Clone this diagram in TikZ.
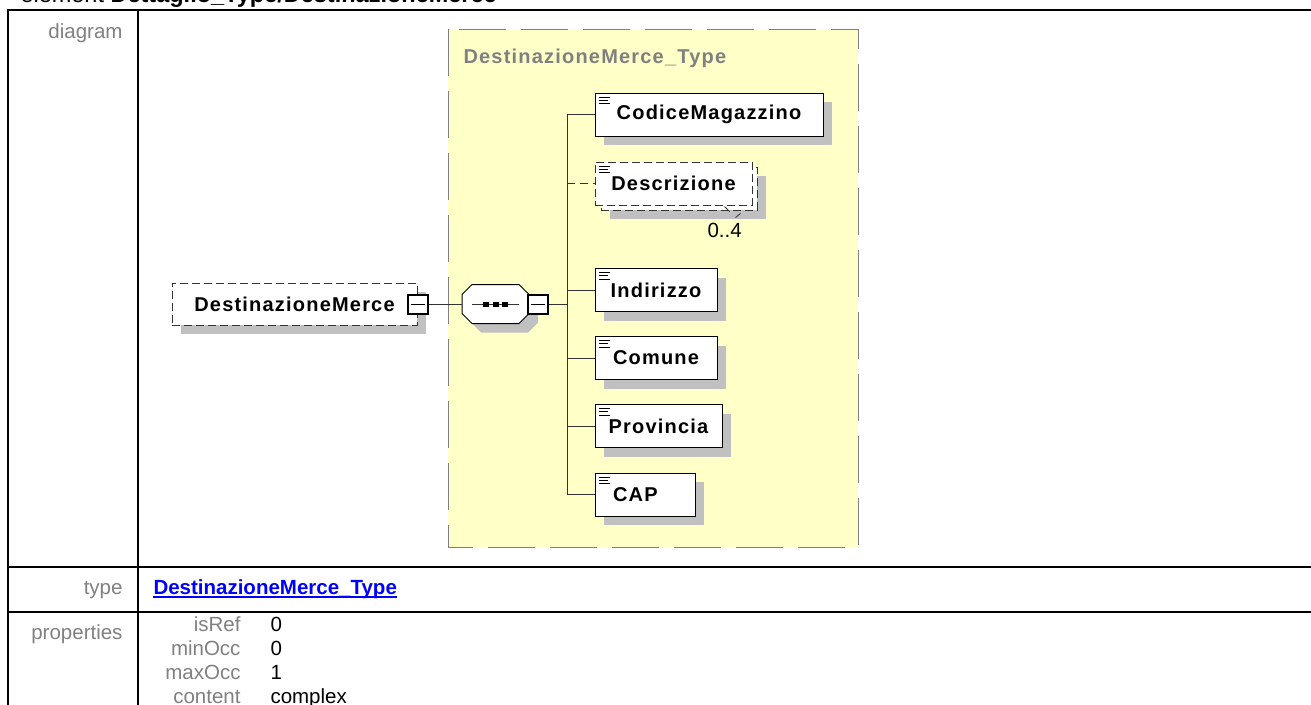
\documentclass[tikz,border=0pt]{standalone}
\usepackage{fontspec}
\setmainfont{Liberation Sans}
\newfontfamily\diagfont[LetterSpace=6]{Liberation Sans}
\usetikzlibrary{shadows}

\definecolor{typeyellow}{RGB}{255,255,200}
\definecolor{shadowgray}{RGB}{192,192,192}
\definecolor{labelgray}{RGB}{128,128,128}
\definecolor{linkblue}{RGB}{0,0,255}

\newcommand\elemfont{\diagfont\fontsize{20}{24}\selectfont\bfseries}
\newcommand\tabfont{\fontsize{20.5}{24}\selectfont}
\newcommand\headfont{\fontsize{23.5}{28}\selectfont}
% === 序列八边形（相对中心） ===
\newcommand\octpath{(-33.5,-9.5) -- (-23.5,-19.5) -- (23.5,-19.5) -- (33.5,-9.5)
    -- (33.5,9.5) -- (23.5,19.5) -- (-23.5,19.5) -- (-33.5,9.5) -- cycle}

\tikzset{
  box/.style={draw=black, fill=white, minimum height=43pt, inner sep=0pt, font=\elemfont},
  shade/.style={general shadow={fill=shadowgray, shadow xshift=9pt, shadow yshift=-9pt}},
  elem/.style={box, shade},
  opt/.style={draw=black!80, dash pattern=on 8pt off 4pt},
  minusbox/.style={draw=black, fill=white, line width=2pt, minimum width=20pt, minimum height=19pt,
    inner sep=0pt, path picture={\draw[line width=1pt] ([xshift=3pt]path picture bounding box.west)
      -- ([xshift=-3pt]path picture bounding box.east);}},
  conn/.style={draw=black!80, line width=1pt},
  icon/.style={draw=black, line width=0.8pt},
  rule/.style={draw=black, line width=2.5pt},
  txt/.style={inner sep=0pt, anchor=base west, font=\tabfont},
  lbl/.style={txt, anchor=base east, text=labelgray},
}

\begin{document}
\begin{tikzpicture}[x=1pt, y=-1pt, line width=1pt]

    \clip (0,0) rectangle (1311,704);

    % === 标题 ===
    \node[txt, font=\headfont] (head) at (20,2) {element \textbf{Dettaglio\_Type/DestinazioneMerce}};

    % === 表格线 ===
    \draw[rule] (1320,10) -| (8,720);
    \draw[rule] (138,10) -- (138,720);
    \draw[rule] (8,567) -- (1320,567);
    \draw[rule] (8,612) -- (1320,612);

    % === 左列标签 ===
    \node[lbl] (lblDiagram) at (123,38) {diagram};
    \node[lbl] (lblType) at (123,594) {type};
    \node[lbl] (lblProps) at (123,639) {properties};

    % === 类型框 ===
    \draw[draw=labelgray, fill=typeyellow, dash pattern=on 47pt off 15pt] (448,29) rectangle (858,547);
    \node[txt, font=\elemfont, text=labelgray] (typeTitle) at (463,63) {DestinazioneMerce\_Type};

    % === 元素 ===
    \node[box, opt, shade, minimum width=245pt, minimum height=42pt] (dest) at (294.5,304) {DestinazioneMerce};
    \node[minusbox] (m1) at (417.5,304) {};

    \node[minimum width=67pt, minimum height=39pt, inner sep=0pt] (seq) at (495.5,304) {};
    \fill[shadowgray, shift={(seq.center)}, shift={(9,9)}] \octpath;
    \draw[fill=white, shift={(seq.center)}] \octpath;
    \draw[conn, shift={(seq.center)}] (-23.5,0) -- (23.5,0);
    \foreach \dx in {-9.5,0,9.5}
        \fill[shift={(seq.center)}] (\dx-3,-2.5) rectangle (\dx+3,2.5);
    \node[minusbox] (m2) at (538,304) {};
    \coordinate (spine) at (567,304);

    \node[elem, minimum width=228pt] (cod) at (709,114.5) {CodiceMagazzino};
    \node[elem, opt, minimum width=156pt] (descrB) at (679,188.5) {};
    \node[box, opt, minimum width=157pt] (descr) at (673.5,183.5) {Descrizione};
    \node[elem, minimum width=122pt] (ind) at (656,290) {Indirizzo};
    \node[elem, minimum width=122pt] (com) at (656,358) {Comune};
    \node[elem, minimum width=127pt] (prov) at (658.5,426) {Provincia};
    \node[elem, minimum width=100pt, text width=64pt, align=left] (cap) at (645,494.5) {CAP};

    \foreach \n in {cod,descr,ind,com,prov,cap}
        \draw[icon, shift={(\n.north west)}] (4.5,4.5) -- (15,4.5) (4.5,7.8) -- (13,7.8) (4.5,11.2) -- (15,11.2);

    % === 连线 ===
    \draw[conn] (m1.east) -- (seq.west);
    \draw[conn] (m2.east) -- (spine);
    \draw[conn] (spine |- cod.west) -- (spine |- cap.west);
    \foreach \n in {cod,ind,com,prov,cap}
        \draw[conn] (spine |- \n.west) -- (\n.west);
    \draw[conn, dash pattern=on 8pt off 5pt] (spine |- descr.west) -- (descr.west);

    % === 出现次数 ===
    \draw[conn, line width=0.8pt, shift={(descrB.south east)}] (-33,-4) -- (-28,1) (-22,7) -- (-17,3);
    \node[txt] (occ) at (707,237) {0..4};

    % === 类型与属性 ===
    \node[txt, font=\tabfont\bfseries, text=linkblue] (typeLink) at (153,594) {DestinazioneMerce\_Type};
    \draw[linkblue, line width=1.5pt] ([yshift=-3pt]typeLink.base west) -- ([yshift=-3pt]typeLink.base east);

    \foreach \k/\v/\yy in {isRef/0/631, minOcc/0/655, maxOcc/1/679, content/complex/703} {
        \node[lbl] (k-\k) at (241,\yy) {\k};
        \node[txt] (v-\k) at (270,\yy) {\v};
    }

\end{tikzpicture}
\end{document}
